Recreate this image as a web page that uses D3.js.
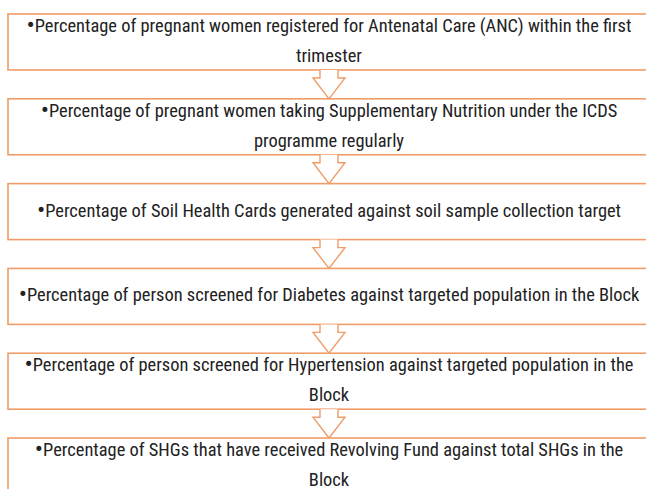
<!DOCTYPE html>
<html>
<head>
<meta charset="utf-8">
<script src="https://cdn.jsdelivr.net/npm/d3@7"></script>
<style>
  html, body { margin: 0; padding: 0; background: #fff; }
  svg { display: block; }
</style>
</head>
<body>
<svg id="chart" width="646" height="489"></svg>
<script>
// ---- data ----
const stepIds = [0, 1, 2, 3, 4, 5];
const bullet = "\u2022";
const stepLines = [
  ["Percentage of pregnant women registered for Antenatal Care (ANC) within the first", "trimester"],
  ["Percentage of pregnant women taking Supplementary Nutrition under the ICDS", "programme regularly"],
  ["Percentage of Soil Health Cards generated against soil sample collection target"],
  ["Percentage of person screened for Diabetes against targeted population in the Block"],
  ["Percentage of person screened for Hypertension against targeted population in the", "Block"],
  ["Percentage of SHGs that have received Revolving Fund against total SHGs in the", "Block"]
];

// ---- layout ----
const W = 646, H = 489;
const boxLeft = 8, boxRight = 650;
const cx = (boxLeft + boxRight) / 2;
const stroke = "#ee9c68";

const svg = d3.select("#chart");
svg.append("rect").attr("width", W).attr("height", H).attr("fill", "#fff");

const y = d3.scaleBand().domain(stepIds).range([14, 494]).paddingInner(0.34).paddingOuter(0);
const bw = y.bandwidth();

// boxes
svg.append("g").selectAll("rect").data(stepIds).join("rect")
  .attr("x", boxLeft).attr("y", d => y(d))
  .attr("width", boxRight - boxLeft).attr("height", bw)
  .attr("fill", "#fff").attr("stroke", stroke).attr("stroke-width", 1.6);

// arrows between boxes
const shaftHalf = 9, headHalf = 16, shaftLen = 8;
svg.append("g").selectAll("path").data(stepIds.slice(0, -1)).join("path")
  .attr("d", d => {
    const y0 = y(d) + bw;
    const y1 = y(d + 1);
    const ys = y0 + shaftLen;
    return `M${cx - shaftHalf},${y0} L${cx - shaftHalf},${ys} L${cx - headHalf},${ys} L${cx},${y1} L${cx + headHalf},${ys} L${cx + shaftHalf},${ys} L${cx + shaftHalf},${y0}`;
  })
  .attr("fill", "#fff").attr("stroke", stroke).attr("stroke-width", 1.4)
  .attr("stroke-linejoin", "miter");

// texts
const fontFamily = "'Liberation Sans Narrow', 'Arial Narrow', 'Roboto Condensed', 'Liberation Sans', sans-serif";
const lineGap = 30;
const textG = svg.append("g");
const allTexts = [];
stepIds.forEach(i => {
  const lines = stepLines[i];
  const n = lines.length;
  const base = y(i) + bw / 2 + 5 - (lineGap / 2) * (n - 1);
  lines.forEach((ln, j) => {
    const t = textG.append("text")
      .attr("x", cx).attr("y", base + j * lineGap)
      .attr("text-anchor", "middle")
      .attr("font-family", fontFamily)
      .attr("font-size", 18)
      .attr("fill", "#222");
    if (j === 0) {
      t.append("tspan").attr("font-size", 24).attr("dy", 1).text(bullet);
      t.append("tspan").attr("dy", -1).text(ln);
    } else {
      t.text(ln);
    }
    allTexts.push(t);
  });
});

// fit overall text width so the first (longest) line spans the box like the original
const refW = allTexts[0].node().getComputedTextLength();
const k = 605 / refW;
allTexts.forEach(t => {
  const w = t.node().getComputedTextLength();
  t.attr("textLength", w * k).attr("lengthAdjust", "spacingAndGlyphs");
});
</script>
</body>
</html>
